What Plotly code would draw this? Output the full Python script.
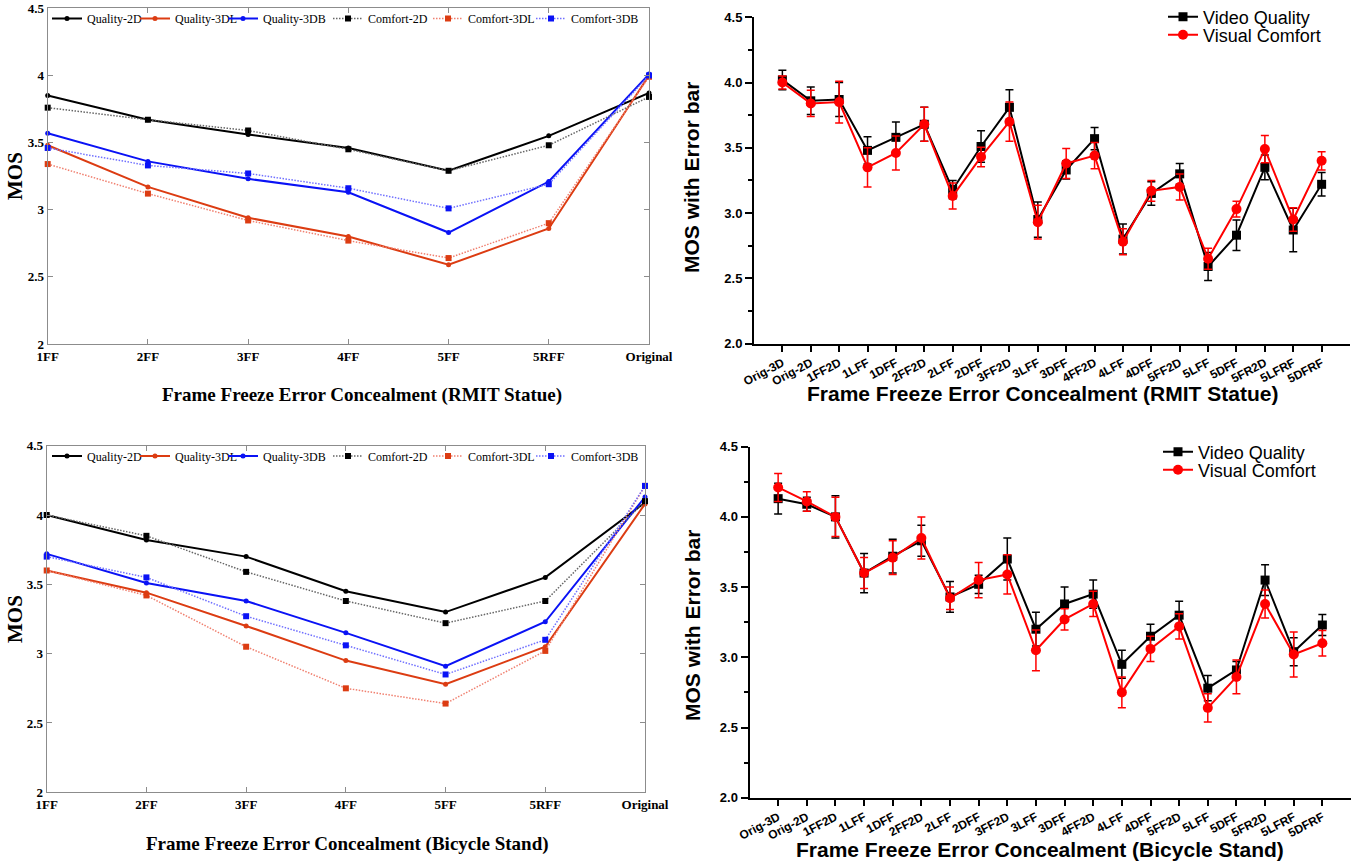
import plotly.graph_objects as go

W, H = 1354, 863

# ---------------- Left charts data ----------------
left_cats = ["1FF", "2FF", "3FF", "4FF", "5FF", "5RFF", "Original"]
left_series = ["Quality-2D", "Quality-3DL", "Quality-3DB", "Comfort-2D", "Comfort-3DL", "Comfort-3DB"]

rmit_quality_2d = [3.85, 3.67, 3.56, 3.46, 3.29, 3.55, 3.87]
rmit_quality_3dl = [3.48, 3.17, 2.94, 2.80, 2.59, 2.86, 4.00]
rmit_quality_3db = [3.57, 3.36, 3.23, 3.13, 2.83, 3.21, 4.01]
rmit_comfort_2d = [3.76, 3.67, 3.59, 3.45, 3.29, 3.48, 3.84]
rmit_comfort_3dl = [3.34, 3.12, 2.92, 2.77, 2.64, 2.90, 3.99]
rmit_comfort_3db = [3.46, 3.33, 3.27, 3.16, 3.01, 3.19, 4.00]

bike_quality_2d = [4.00, 3.82, 3.70, 3.45, 3.30, 3.55, 4.09]
bike_quality_3dl = [3.60, 3.44, 3.20, 2.95, 2.78, 3.05, 4.08]
bike_quality_3db = [3.72, 3.51, 3.38, 3.15, 2.91, 3.23, 4.13]
bike_comfort_2d = [4.00, 3.85, 3.59, 3.38, 3.22, 3.38, 4.10]
bike_comfort_3dl = [3.60, 3.42, 3.05, 2.75, 2.64, 3.02, 4.21]
bike_comfort_3db = [3.70, 3.55, 3.27, 3.06, 2.85, 3.10, 4.21]

left_ticks = [2, 2.5, 3, 3.5, 4, 4.5]
left_ticktext = ["2", "2.5", "3", "3.5", "4", "4.5"]

# ---------------- Right charts data ----------------
right_cats = ["Orig-3D", "Orig-2D", "1FF2D", "1LFF", "1DFF", "2FF2D", "2LFF", "2DFF", "3FF2D",
              "3LFF", "3DFF", "4FF2D", "4LFF", "4DFF", "5FF2D", "5LFF", "5DFF", "5FR2D", "5LFRF", "5DFRF"]

rmit_vq = [4.02, 3.86, 3.87, 3.48, 3.58, 3.68, 3.18, 3.51, 3.81, 2.95, 3.33, 3.57, 2.80, 3.15,
           3.30, 2.59, 2.83, 3.35, 2.87, 3.22]
rmit_vq_err = [0.075, 0.105, 0.13, 0.105, 0.117, 0.13, 0.07, 0.12, 0.135, 0.135, 0.07, 0.085, 0.115,
               0.09, 0.08, 0.107, 0.117, 0.095, 0.166, 0.09]
rmit_vc = [4.00, 3.84, 3.85, 3.35, 3.46, 3.68, 3.13, 3.43, 3.70, 2.93, 3.38, 3.44, 2.78, 3.17,
           3.20, 2.65, 3.03, 3.49, 2.95, 3.40]
rmit_vc_err = [0.05, 0.10, 0.16, 0.15, 0.13, 0.13, 0.10, 0.075, 0.15, 0.13, 0.115, 0.10, 0.10,
               0.08, 0.10, 0.08, 0.06, 0.105, 0.09, 0.07]

bike_vq = [4.13, 4.09, 4.00, 3.60, 3.72, 3.83, 3.43, 3.52, 3.70, 3.20, 3.38, 3.45, 2.95, 3.15,
           3.30, 2.78, 2.91, 3.55, 3.04, 3.23]
bike_vq_err = [0.11, 0.05, 0.15, 0.14, 0.12, 0.11, 0.11, 0.065, 0.15, 0.12, 0.12, 0.10, 0.10,
               0.086, 0.10, 0.09, 0.06, 0.11, 0.10, 0.075]
bike_vc = [4.21, 4.11, 4.00, 3.60, 3.71, 3.85, 3.42, 3.55, 3.59, 3.05, 3.27, 3.38, 2.75, 3.06,
           3.22, 2.64, 2.86, 3.38, 3.02, 3.10]
bike_vc_err = [0.10, 0.07, 0.14, 0.11, 0.12, 0.15, 0.08, 0.125, 0.14, 0.145, 0.075, 0.09, 0.11,
               0.09, 0.09, 0.10, 0.12, 0.10, 0.16, 0.09]

right_ticks = [2.0, 2.5, 3.0, 3.5, 4.0, 4.5]

# ---------------- Styles ----------------
SERIF = "Liberation Serif"
SANS = "Liberation Sans"
BLACK = "#000000"
RED = "#dc3c12"
BLUE = "#0a12f5"

DOT = "1.5px,1.5px"
left_styles = [
    dict(line=dict(color=BLACK, width=2), marker=dict(color=BLACK, symbol="circle", size=5)),
    dict(line=dict(color=RED, width=2), marker=dict(color=RED, symbol="circle", size=5)),
    dict(line=dict(color=BLUE, width=2), marker=dict(color=BLUE, symbol="circle", size=5)),
    dict(line=dict(color="#666666", width=1.5, dash=DOT), marker=dict(color=BLACK, symbol="square", size=6)),
    dict(line=dict(color="#f08070", width=1.5, dash=DOT), marker=dict(color=RED, symbol="square", size=6)),
    dict(line=dict(color="#7070ff", width=1.5, dash=DOT), marker=dict(color=BLUE, symbol="square", size=6)),
]


def clamp(v):
    return max(0.0, min(1.0, v))


def px_x(p):
    return p / W


def px_y(p):
    return 1 - p / H


def dom_x(a, b):
    return [clamp(px_x(a)), clamp(px_x(b))]


def dom_y(bottom, top):
    return [clamp(px_y(bottom)), clamp(px_y(top))]


fig = go.Figure()
legends = {}
leg_counter = [0]


def new_legend(text_x, y_center, font):
    leg_counter[0] += 1
    key = "legend" if leg_counter[0] == 1 else "legend%d" % leg_counter[0]
    legends[key] = dict(orientation="v", x=px_x(text_x - 40), y=px_y(y_center),
                        xanchor="left", yanchor="middle", font=font,
                        bgcolor="rgba(0,0,0,0)", itemwidth=30, tracegroupgap=0)
    return key


# ---------------- Left charts ----------------
left_leg_text_x = [87, 175, 263, 368, 468, 571]
left_sets = [
    ("x", "y", 18.5, [rmit_quality_2d, rmit_quality_3dl, rmit_quality_3db,
                      rmit_comfort_2d, rmit_comfort_3dl, rmit_comfort_3db]),
    ("x3", "y3", 456, [bike_quality_2d, bike_quality_3dl, bike_quality_3db,
                       bike_comfort_2d, bike_comfort_3dl, bike_comfort_3db]),
]
for xa, ya, ly, series in left_sets:
    for name, vals, st, lx in zip(left_series, series, left_styles, left_leg_text_x):
        lg = new_legend(lx, ly, dict(family=SERIF, size=12, color=BLACK))
        fig.add_trace(go.Scatter(
            x=left_cats, y=vals, name=name, mode="lines+markers",
            line=st["line"], marker=st["marker"], xaxis=xa, yaxis=ya,
            legend=lg, cliponaxis=False))

# ---------------- Right charts ----------------
right_sets = [
    ("x2", "y2", 1203, 17, rmit_vq, rmit_vq_err, rmit_vc, rmit_vc_err),
    ("x4", "y4", 1198, 452, bike_vq, bike_vq_err, bike_vc, bike_vc_err),
]
for xa, ya, lx, ly, vq, vqe, vc, vce in right_sets:
    lg1 = new_legend(lx, ly, dict(family=SANS, size=18, color=BLACK))
    fig.add_trace(go.Scatter(
        x=right_cats, y=vq, name="Video Quality", mode="lines+markers",
        line=dict(color=BLACK, width=2), marker=dict(color=BLACK, symbol="square", size=9),
        error_y=dict(type="data", array=vqe, visible=True, color=BLACK, thickness=1.5, width=4),
        xaxis=xa, yaxis=ya, legend=lg1, cliponaxis=False))
    lg2 = new_legend(lx, ly + 18, dict(family=SANS, size=18, color=BLACK))
    fig.add_trace(go.Scatter(
        x=right_cats, y=vc, name="Visual Comfort", mode="lines+markers",
        line=dict(color="#ff0000", width=2), marker=dict(color="#ff0000", symbol="circle", size=10),
        error_y=dict(type="data", array=vce, visible=True, color="#ff0000", thickness=1.5, width=4),
        xaxis=xa, yaxis=ya, legend=lg2, cliponaxis=False))


# ---------------- Axes ----------------
def left_x(domain, anchor):
    return dict(domain=domain, anchor=anchor, type="category", range=[0, 6], automargin=False,
                tickvals=left_cats, ticktext=["<b>" + c + "</b>" for c in left_cats],
                showgrid=False, zeroline=False, showline=True, linecolor="#8c8c8c", linewidth=1,
                mirror="ticks", ticks="inside", ticklen=5, tickcolor="#8c8c8c",
                tickfont=dict(family=SERIF, size=13, color=BLACK))


def left_y(domain, anchor):
    return dict(domain=domain, anchor=anchor, range=[2, 4.5], tickvals=left_ticks, automargin=False,
                ticktext=["<b>" + t + "</b>" for t in left_ticktext],
                showgrid=False, zeroline=False, showline=True, linecolor="#8c8c8c", linewidth=1,
                mirror="ticks", ticks="inside", ticklen=5, tickcolor="#8c8c8c",
                tickfont=dict(family=SERIF, size=13, color=BLACK))


def right_x(domain, anchor):
    return dict(domain=domain, anchor=anchor, type="category", range=[-1, 20], automargin=False,
                tickvals=right_cats, ticktext=["<b>" + c + "</b>" for c in right_cats],
                tickangle=-28, showgrid=False, zeroline=False, showline=True,
                linecolor=BLACK, linewidth=2, ticks="outside", ticklen=6, tickwidth=1.5,
                tickcolor=BLACK, tickfont=dict(family=SANS, size=12, color=BLACK))


def right_y(domain, anchor):
    return dict(domain=domain, anchor=anchor, range=[2, 4.5], tickvals=right_ticks, automargin=False,
                ticktext=["<b>%.1f</b>" % v for v in right_ticks],
                showgrid=False, zeroline=False, showline=True, linecolor=BLACK, linewidth=2,
                ticks="outside", ticklen=7, tickwidth=1.5, tickcolor=BLACK,
                minor=dict(dtick=0.25, tick0=2.0, ticks="outside", ticklen=4, tickcolor=BLACK, tickwidth=1.5),
                tickfont=dict(family=SANS, size=13, color=BLACK))


TL_x = dom_x(47.7, 649)
TL_y = dom_y(344, 8.3)
TR_x = dom_x(754, 1350)
TR_y = dom_y(343.5, 17.3)
BL_x = dom_x(46.7, 645)
BL_y = dom_y(792.3, 445.7)
BR_x = dom_x(749.5, 1351)
BR_y = dom_y(797.7, 446.7)

# axis titles as positioned text
titles = [
    ("<b>Frame Freeze Error Concealment (RMIT Statue)</b>", 362, 395, 0, SERIF, 19),
    ("<b>Frame Freeze Error Concealment (Bicycle Stand)</b>", 347, 844, 0, SERIF, 19),
    ("<b>Frame Freeze Error Concealment (RMIT Statue)</b>", 1042, 393, 0, SANS, 21),
    ("<b>Frame Freeze Error Concealment (Bicycle Stand)</b>", 1040, 849, 0, SANS, 21),
    ("<b>MOS</b>", 15, 176, -90, SERIF, 21),
    ("<b>MOS</b>", 15, 619, -90, SERIF, 21),
    ("<b>MOS with Error bar</b>", 692, 178, -90, SANS, 21),
    ("<b>MOS with Error bar</b>", 692, 626, -90, SANS, 21),
]
annotations = [dict(text=t, x=px_x(x), y=px_y(y), xref="paper", yref="paper",
                    xanchor="center", yanchor="middle", showarrow=False, textangle=a,
                    font=dict(family=f, size=s, color=BLACK))
               for t, x, y, a, f, s in titles]

fig.update_layout(
    width=W, height=H, margin=dict(l=0, r=0, t=0, b=0, autoexpand=False),
    paper_bgcolor="white", plot_bgcolor="white", showlegend=True,
    xaxis=left_x(TL_x, "y"), yaxis=left_y(TL_y, "x"),
    xaxis2=right_x(TR_x, "y2"), yaxis2=right_y(TR_y, "x2"),
    xaxis3=left_x(BL_x, "y3"), yaxis3=left_y(BL_y, "x3"),
    xaxis4=right_x(BR_x, "y4"), yaxis4=right_y(BR_y, "x4"),
    annotations=annotations,
    **legends,
)

fig.write_html("out.html", config={"displayModeBar": False},
               post_script="document.body.style.margin='0';document.body.style.padding='0';"
                           "document.body.style.overflow='hidden';")
